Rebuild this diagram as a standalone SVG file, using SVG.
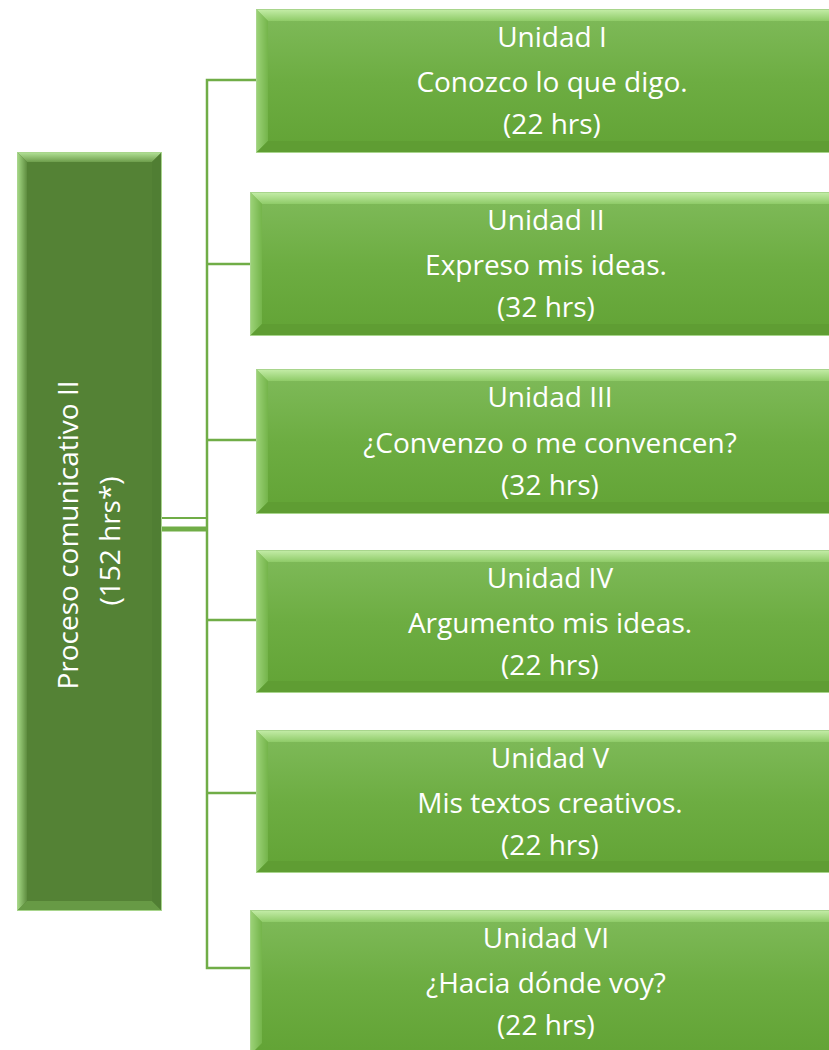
<svg xmlns="http://www.w3.org/2000/svg" width="829" height="1050" viewBox="0 0 829 1050">
<defs>
<linearGradient id="gFace" x1="0" y1="0" x2="0" y2="1">
<stop offset="0" stop-color="#80bb5b"/>
<stop offset="0.5" stop-color="#6dad42"/>
<stop offset="1" stop-color="#62a335"/>
</linearGradient>
<linearGradient id="gTop" x1="0" y1="0" x2="0" y2="1">
<stop offset="0" stop-color="#c6eeaa"/>
<stop offset="1" stop-color="#8fcb68"/>
</linearGradient>
<linearGradient id="gLeft" x1="0" y1="0" x2="1" y2="0">
<stop offset="0" stop-color="#9ed47a"/>
<stop offset="1" stop-color="#74b44a"/>
</linearGradient>
<linearGradient id="gTopD" x1="0" y1="0" x2="0" y2="1">
<stop offset="0" stop-color="#b5e49a"/>
<stop offset="1" stop-color="#6e9e4c"/>
</linearGradient>
<linearGradient id="gLeftD" x1="0" y1="0" x2="1" y2="0">
<stop offset="0" stop-color="#a8dc88"/>
<stop offset="1" stop-color="#5e8c3f"/>
</linearGradient>
<style>
.t{font-family:"Open Sans","Liberation Sans",sans-serif;font-size:28px;fill:#ffffff;text-anchor:middle}
.c{fill:none;stroke:#70ad47;stroke-width:2.5}
.edge{fill:none;stroke:#a8d58c;stroke-width:1}
.bot{fill:#5f9d33}
.botD{fill:#679a45}
.rgtD{fill:#507e33}
</style>
</defs>
<g id="connectors">
<polyline class="c" points="257,80 207,80 207,968 250,968"/>
<line class="c" x1="207" y1="264" x2="250" y2="264"/>
<line class="c" x1="207" y1="440" x2="256" y2="440"/>
<line class="c" x1="207" y1="620" x2="256" y2="620"/>
<line class="c" x1="207" y1="793" x2="256" y2="793"/>
<line x1="162" y1="518" x2="207" y2="518" stroke="#70ad47" stroke-width="2"/>
<line x1="162" y1="529" x2="207" y2="529" stroke="#70ad47" stroke-width="5"/>
</g>
<g id="root">
<rect x="17" y="152" width="145" height="759" fill="#548235"/>
<polygon points="17,152 162,152 152,162 27,162" fill="url(#gTopD)"/>
<polygon points="17,152 27,162 27,901 17,911" fill="url(#gLeftD)"/>
<polygon class="botD" points="17,911 27,901 152,901 162,911"/>
<polygon class="rgtD" points="162,152 162,911 152,901 152,162"/>
<rect class="edge" x="17.5" y="152.5" width="144" height="758" stroke="#8dbb6e"/>
<text class="t" transform="translate(78,535) rotate(-90)">Proceso comunicativo II</text>
<text class="t" transform="translate(120,541) rotate(-90)">(152 hrs*)</text>
</g>
<g id="u1">
<rect x="256" y="9" width="590" height="144" fill="url(#gFace)"/>
<polygon points="256,9 846,9 846,21 268,21" fill="url(#gTop)"/>
<polygon points="256,9 268,21 268,141 256,153" fill="url(#gLeft)"/>
<polygon class="bot" points="256,153 268,141 846,141 846,153"/>
<rect class="edge" x="256.5" y="9.5" width="600" height="143"/>
<text class="t" x="552" y="47">Unidad I</text>
<text class="t" x="552" y="92">Conozco lo que digo.</text>
<text class="t" x="552" y="134">(22 hrs)</text>
</g>
<g id="u2">
<rect x="250" y="192" width="596" height="144" fill="url(#gFace)"/>
<polygon points="250,192 846,192 846,204 262,204" fill="url(#gTop)"/>
<polygon points="250,192 262,204 262,324 250,336" fill="url(#gLeft)"/>
<polygon class="bot" points="250,336 262,324 846,324 846,336"/>
<rect class="edge" x="250.5" y="192.5" width="600" height="143"/>
<text class="t" x="546" y="230">Unidad II</text>
<text class="t" x="546" y="275">Expreso mis ideas.</text>
<text class="t" x="546" y="317">(32 hrs)</text>
</g>
<g id="u3">
<rect x="256" y="369" width="590" height="145" fill="url(#gFace)"/>
<polygon points="256,369 846,369 846,381 268,381" fill="url(#gTop)"/>
<polygon points="256,369 268,381 268,502 256,514" fill="url(#gLeft)"/>
<polygon class="bot" points="256,514 268,502 846,502 846,514"/>
<rect class="edge" x="256.5" y="369.5" width="600" height="144"/>
<text class="t" x="550" y="407">Unidad III</text>
<text class="t" x="550" y="453">¿Convenzo o me convencen?</text>
<text class="t" x="550" y="495">(32 hrs)</text>
</g>
<g id="u4">
<rect x="256" y="550" width="590" height="143" fill="url(#gFace)"/>
<polygon points="256,550 846,550 846,562 268,562" fill="url(#gTop)"/>
<polygon points="256,550 268,562 268,681 256,693" fill="url(#gLeft)"/>
<polygon class="bot" points="256,693 268,681 846,681 846,693"/>
<rect class="edge" x="256.5" y="550.5" width="600" height="142"/>
<text class="t" x="550" y="588">Unidad IV</text>
<text class="t" x="550" y="633">Argumento mis ideas.</text>
<text class="t" x="550" y="675">(22 hrs)</text>
</g>
<g id="u5">
<rect x="256" y="730" width="590" height="143" fill="url(#gFace)"/>
<polygon points="256,730 846,730 846,742 268,742" fill="url(#gTop)"/>
<polygon points="256,730 268,742 268,861 256,873" fill="url(#gLeft)"/>
<polygon class="bot" points="256,873 268,861 846,861 846,873"/>
<rect class="edge" x="256.5" y="730.5" width="600" height="142"/>
<text class="t" x="550" y="768">Unidad V</text>
<text class="t" x="550" y="813">Mis textos creativos.</text>
<text class="t" x="550" y="855">(22 hrs)</text>
</g>
<g id="u6">
<rect x="250" y="910" width="596" height="145" fill="url(#gFace)"/>
<polygon points="250,910 846,910 846,922 262,922" fill="url(#gTop)"/>
<polygon points="250,910 262,922 262,1043 250,1055" fill="url(#gLeft)"/>
<rect class="edge" x="250.5" y="910.5" width="600" height="144"/>
<text class="t" x="546" y="948">Unidad VI</text>
<text class="t" x="546" y="993">¿Hacia dónde voy?</text>
<text class="t" x="546" y="1035">(22 hrs)</text>
</g>
</svg>
